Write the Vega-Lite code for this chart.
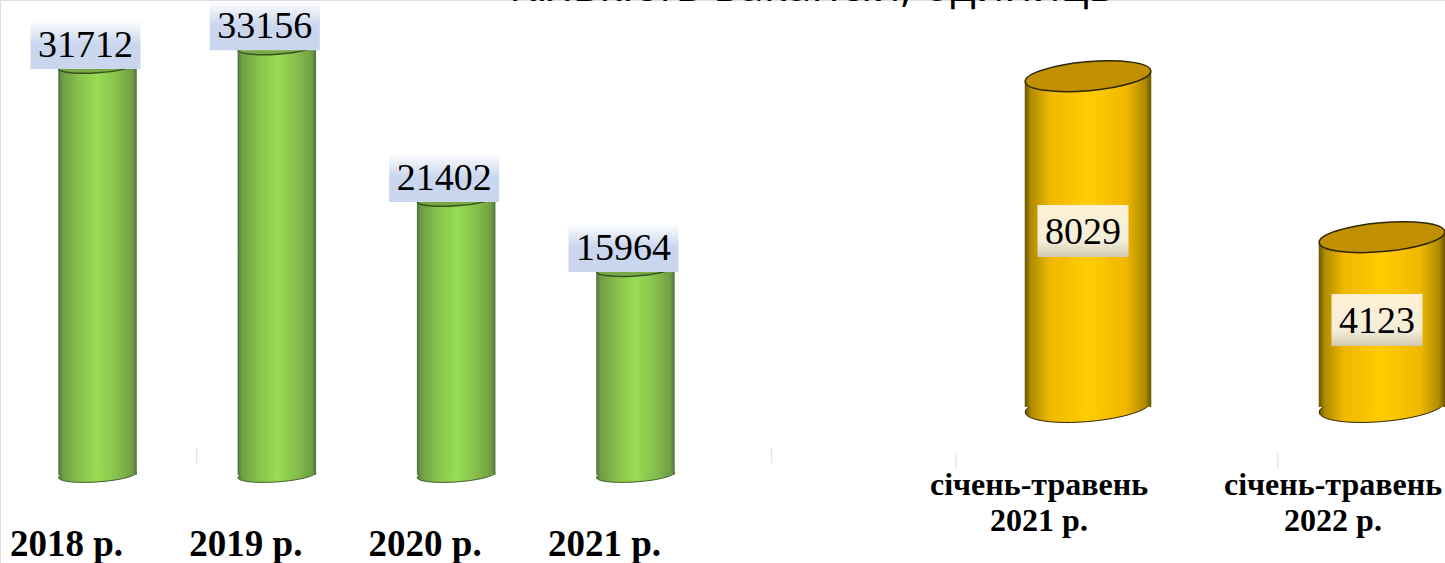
{
"$schema":"https://vega.github.io/schema/vega-lite/v6.json",
"width":1445,"height":563,"padding":0,"autosize":{"type":"none"},
"background":"white",
"datasets":{
"annual":[{"year":2018,"label":"2018 р.","value":31712},{"year":2019,"label":"2019 р.","value":33156},{"year":2020,"label":"2020 р.","value":21402},{"year":2021,"label":"2021 р.","value":15964}],
"annualTicks":[{"year":2018.553},{"year":2021.76}],
"months":[{"pos":0,"label":"січень-травень|2021 р.","value":8029},{"pos":1,"label":"січень-травень|2022 р.","value":4123}],
"monthTicks":[{"pos":-0.449},{"pos":0.646}],
"heading":[{"pos":-0.939,"text":"Кількість вакансій, одиниць"}]
},
"resolve":{"scale":{"x":"independent","y":"independent"}},
"layer":[
{
"data":{"name":"annual"},
"encoding":{
"x":{"field":"year","type":"quantitative","scale":{"domain":[2017.456,2025.515],"nice":false,"zero":false,"padding":0},"axis":null}
},
"layer":[
{"mark":{"type":"point","filled":true,"opacity":1,"shape":"M.9976,-.0698C1.0044,.0277 .5633,.1381 .0123,.1766C-.5387,.2151 -.9908,.1673 -.9976,.0698C-1.0044,-.0277 -.5633,-.1381 -.0123,-.1766C.5387,-.2151 .9908,-.1673 .9976,-.0698Z","size":6084,"fill":{"x1":0,"x2":1,"y1":0,"y2":0,"gradient":"linear","stops":[{"offset":0,"color":"#4f6f42"},{"offset":0.05,"color":"#6f9c44"},{"offset":0.25,"color":"#86c04b"},{"offset":0.5,"color":"#98dc54"},{"offset":0.75,"color":"#86c04b"},{"offset":0.95,"color":"#6f9c44"},{"offset":1,"color":"#4f6f42"}]},"stroke":"#3f5f28","strokeWidth":1},
 "encoding":{"y":{"datum":0,"type":"quantitative","scale":{"domain":[-6822,36822],"nice":false,"zero":false},"axis":null}}},
{"mark":{"type":"bar","orient":"vertical","size":39.5,"xOffset":-19.5,"yOffset":2.7,"y2Offset":2.7,"fill":{"x1":0,"x2":1,"y1":0,"y2":0,"gradient":"linear","stops":[{"offset":0,"color":"#4f6f42"},{"offset":0.1,"color":"#6f9c44"},{"offset":0.5,"color":"#86c04b"},{"offset":1,"color":"#98dc54"}]}},
 "encoding":{"y":{"field":"value","type":"quantitative","stack":null,"axis":null,"scale":{"domain":[-6822,36822],"nice":false,"zero":false}}}},
{"mark":{"type":"bar","orient":"vertical","size":39.5,"xOffset":19.5,"yOffset":-2.7,"y2Offset":-2.7,"fill":{"x1":0,"x2":1,"y1":0,"y2":0,"gradient":"linear","stops":[{"offset":0,"color":"#98dc54"},{"offset":0.5,"color":"#86c04b"},{"offset":0.9,"color":"#6f9c44"},{"offset":1,"color":"#4f6f42"}]}},
 "encoding":{"y":{"field":"value","type":"quantitative","stack":null,"axis":null}}},
{"mark":{"type":"point","filled":true,"opacity":1,"shape":"M.9976,-.0698C1.0044,.0277 .5633,.1381 .0123,.1766C-.5387,.2151 -.9908,.1673 -.9976,.0698C-1.0044,-.0277 -.5633,-.1381 -.0123,-.1766C.5387,-.2151 .9908,-.1673 .9976,-.0698Z","size":6084,"fill":"#79a944","stroke":"#35541f","strokeWidth":1.5},
 "encoding":{"y":{"field":"value","type":"quantitative","axis":null}}},
{"mark":{"type":"rect","width":110,"height":49,"xOffset":-12,"yOffset":-21.5,"fill":{"x1":0,"x2":0,"y1":0,"y2":1,"gradient":"linear","stops":[{"offset":0,"color":"#ffffff"},{"offset":0.5,"color":"#c9d6ee"},{"offset":1,"color":"#c9d6ee"}]}},
 "encoding":{"y":{"field":"value","type":"quantitative","axis":null}}},
{"mark":{"type":"text","font":"Liberation Serif","fontSize":38,"color":"#000000","xOffset":-12,"yOffset":-20,"baseline":"middle"},
 "encoding":{"y":{"field":"value","type":"quantitative","axis":null},"text":{"field":"value","type":"nominal"}}},
{"mark":{"type":"text","font":"Liberation Serif","fontWeight":"bold","fontSize":37,"color":"#000000","xOffset":-31,"baseline":"middle"},
 "encoding":{"y":{"datum":-5426,"type":"quantitative"},"text":{"field":"label","type":"nominal"}}},
{"data":{"name":"annualTicks"},"mark":{"type":"rule","color":"#d9d9d9","strokeWidth":1},
 "encoding":{"y":{"datum":2170,"type":"quantitative"},"y2":{"datum":930}}}
]
},
{
"data":{"name":"months"},
"encoding":{
"x":{"field":"pos","type":"quantitative","scale":{"domain":[-3.7007,1.2143],"nice":false,"zero":false,"padding":0},"axis":null}
},
"layer":[
{"mark":{"type":"point","filled":true,"opacity":1,"shape":"M.9962,-.0872C1.0072,.0393 .5702,.1809 .02,.2291C-.5302,.2773 -.9852,.2137 -.9962,.0872C-1.0072,-.0393 -.5702,-.1809 -.02,-.2291C.5302,-.2773 .9852,-.2137 .9962,-.0872Z","size":15876,"fill":{"x1":0,"x2":1,"y1":0,"y2":0,"gradient":"linear","stops":[{"offset":0,"color":"#6b5500"},{"offset":0.05,"color":"#b08c00"},{"offset":0.2,"color":"#f0b800"},{"offset":0.5,"color":"#ffcc00"},{"offset":0.8,"color":"#f0b800"},{"offset":0.95,"color":"#b08c00"},{"offset":1,"color":"#6b5500"}]},"stroke":"#2e2400","strokeWidth":1},
 "encoding":{"y":{"datum":0,"type":"quantitative","scale":{"domain":[-3786,9879],"nice":false,"zero":false},"axis":null}}},
{"mark":{"type":"bar","orient":"vertical","size":63.5,"xOffset":-31.5,"yOffset":5.5,"y2Offset":5.5,"fill":{"x1":0,"x2":1,"y1":0,"y2":0,"gradient":"linear","stops":[{"offset":0,"color":"#6b5500"},{"offset":0.1,"color":"#b08c00"},{"offset":0.4,"color":"#f0b800"},{"offset":1,"color":"#ffcc00"}]}},
 "encoding":{"y":{"field":"value","type":"quantitative","stack":null,"axis":null,"scale":{"domain":[-3786,9879],"nice":false,"zero":false}}}},
{"mark":{"type":"bar","orient":"vertical","size":63.5,"xOffset":31.5,"yOffset":-5.5,"y2Offset":-5.5,"fill":{"x1":0,"x2":1,"y1":0,"y2":0,"gradient":"linear","stops":[{"offset":0,"color":"#ffcc00"},{"offset":0.6,"color":"#f0b800"},{"offset":0.9,"color":"#b08c00"},{"offset":1,"color":"#6b5500"}]}},
 "encoding":{"y":{"field":"value","type":"quantitative","stack":null,"axis":null}}},
{"mark":{"type":"point","filled":true,"opacity":1,"shape":"M.9962,-.0872C1.0072,.0393 .5702,.1809 .02,.2291C-.5302,.2773 -.9852,.2137 -.9962,.0872C-1.0072,-.0393 -.5702,-.1809 -.02,-.2291C.5302,-.2773 .9852,-.2137 .9962,-.0872Z","size":15876,"fill":"#c09000","stroke":"#2e2400","strokeWidth":1.5},
 "encoding":{"y":{"field":"value","type":"quantitative","axis":null}}},
{"transform":[{"calculate":"datum.value/2+(datum.pos==0?257:48)","as":"mid"}],
 "mark":{"type":"rect","width":91,"height":52,"xOffset":-5,"fill":{"x1":0,"x2":0,"y1":0,"y2":1,"gradient":"linear","stops":[{"offset":0,"color":"#fff0d2"},{"offset":0.7,"color":"#f3eeda"},{"offset":1,"color":"#d2c8ac"}]}},
 "encoding":{"y":{"field":"mid","type":"quantitative","axis":null}}},
{"transform":[{"calculate":"datum.value/2+(datum.pos==0?257:48)","as":"mid"}],
 "mark":{"type":"text","font":"Liberation Serif","fontSize":38,"color":"#000000","baseline":"middle","xOffset":-5,"yOffset":1.5},
 "encoding":{"y":{"field":"mid","type":"quantitative","axis":null},"text":{"field":"value","type":"nominal"}}},
{"mark":{"type":"text","font":"Liberation Serif","fontWeight":"bold","fontSize":32,"lineHeight":36,"lineBreak":"|","color":"#000000","xOffset":-49,"baseline":"middle"},
 "encoding":{"y":{"datum":-1893,"type":"quantitative"},"text":{"field":"label","type":"nominal"}}},
{"data":{"name":"monthTicks"},"mark":{"type":"rule","color":"#d9d9d9","strokeWidth":1},
 "encoding":{"y":{"datum":-1117,"type":"quantitative"},"y2":{"datum":-1505}}},
{"data":{"name":"heading"},"mark":{"type":"text","font":"Open Sans","fontSize":44.5,"color":"#000000","baseline":"alphabetic"},
 "encoding":{"y":{"datum":9860,"type":"quantitative"},"x":{"field":"pos","type":"quantitative"},"text":{"field":"text","type":"nominal"}}}
]
}
]
}
